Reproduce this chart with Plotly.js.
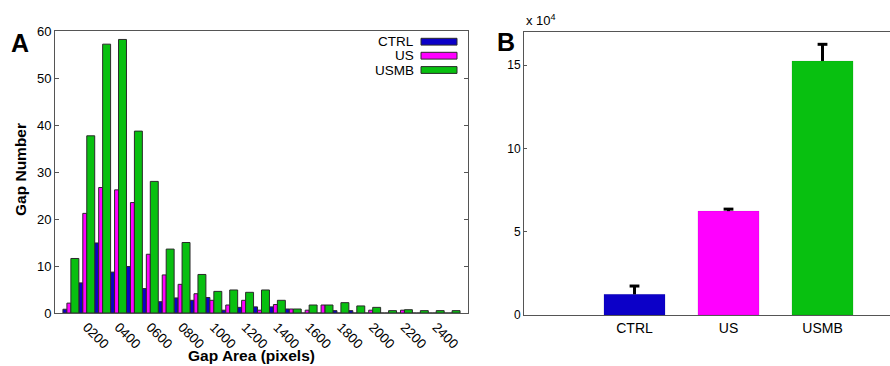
<!DOCTYPE html>
<html>
<head>
<meta charset="utf-8">
<script src="https://cdn.plot.ly/plotly-3.0.1.min.js"></script>
<style>html,body{margin:0;padding:0;background:#fff;}#chart{width:890px;height:366px;}</style>
</head>
<body>
<div id="chart"></div>
<script>
// Panel A: histogram of gap areas (bin centres, pixels)
const binCenters = [100,200,300,400,500,600,700,800,900,1000,1100,1200,1300,1400,1500,1600,1700,1800,1900,2000,2100,2200,2300,2400,2500];
const ctrlCounts = [0.8,6.4,14.9,8.7,9.9,5.2,2.4,3.2,2.7,3.3,0.6,1.2,1.3,1.3,0.85,0,0,0.5,0.5,0,0,0,0,0,0];
const usCounts   = [2.1,21.2,26.7,26.2,23.5,12.5,8.1,6.1,4.1,2.7,1.7,2.7,0.6,1.8,0.85,0.6,1.7,0,0,0.6,0,0.6,0,0,0];
const usmbCounts = [11.6,37.7,57.2,58.2,38.7,28,13.6,15,8.2,4.6,4.9,4.4,4.9,2.7,0.85,1.7,1.7,2.2,1.5,1.2,0.5,0.7,0.5,0.5,0.5];
const xTickVals  = [200,400,600,800,1000,1200,1400,1600,1800,2000,2200,2400];
const xTickText  = ['0200','0400','0600','0800','1000','1200','1400','1600','1800','2000','2200','2400'];
const yTicksA    = [0,10,20,30,40,50,60];

// Panel B: total gap area (x 10^4)
const groups     = ['CTRL','US','USMB'];
const totalArea  = [1.24,6.24,15.26];
const totalErr   = [0.5,0.12,1.0];
const yTicksB    = [0,5,10,15];

const colors = {CTRL:'#0c00c8', US:'#ff00ff', USMB:'#08c010'};
const FONT = 'Liberation Sans, Arial, Helvetica, sans-serif';
const edge = {color:'#2a2a2a', width:1};

const errTop = totalArea.map((v,i)=>v+totalErr[i]);

const traces = [
  {type:'bar', name:'CTRL', x:binCenters, y:ctrlCounts, offset:-50, width:25,
   marker:{color:colors.CTRL, line:edge}, xaxis:'x', yaxis:'y', showlegend:false},
  {type:'bar', name:'US', x:binCenters, y:usCounts, offset:-25, width:25,
   marker:{color:colors.US, line:edge}, xaxis:'x', yaxis:'y', showlegend:false},
  {type:'bar', name:'USMB', x:binCenters, y:usmbCounts, offset:0, width:50,
   marker:{color:colors.USMB, line:edge}, xaxis:'x', yaxis:'y', showlegend:false},
  {type:'bar', name:'Total', x:groups, y:totalArea, width:0.65,
   marker:{color:groups.map(g=>colors[g]), line:{color:'rgba(0,0,0,0.15)', width:0.5}},
   error_y:{type:'data', symmetric:false, array:totalErr, arrayminus:[0,0,0], color:'#000', thickness:3, width:0},
   xaxis:'x2', yaxis:'y2', showlegend:false},
  {type:'scatter', mode:'markers', name:'cap', x:groups, y:errTop,
   marker:{symbol:'line-ew', size:7, color:'#000', line:{color:'#000', width:3}},
   xaxis:'x2', yaxis:'y2', showlegend:false, cliponaxis:false}
];

const ax = {showline:true, linecolor:'#555', linewidth:1, showgrid:false, zeroline:false,
            tickfont:{family:FONT, size:13, color:'#000'}, tickcolor:'#555'};

function px(x){return x/890;}
function py(y){return (366-y)/366;}

const legendItems = [['CTRL',41.7],['US',55.7],['USMB',70]];
const annotations = [
  {text:'<b>A</b>', x:px(9), y:py(43.5), xref:'paper', yref:'paper', xanchor:'left', yanchor:'middle', showarrow:false, font:{family:FONT, size:25, color:'#000'}},
  {text:'<b>B</b>', x:px(495), y:py(42.5), xref:'paper', yref:'paper', xanchor:'left', yanchor:'middle', showarrow:false, font:{family:FONT, size:25, color:'#000'}},
  {text:'<b>Gap Number</b>', x:px(21), y:py(170), xref:'paper', yref:'paper', xanchor:'center', yanchor:'middle', textangle:-90, showarrow:false, font:{family:FONT, size:15.5, color:'#000'}},
  {text:'<b>Gap Area (pixels)</b>', x:px(251), y:py(355.5), xref:'paper', yref:'paper', xanchor:'center', yanchor:'middle', showarrow:false, font:{family:FONT, size:15.5, color:'#000'}},
  {text:'x 10<sup>4</sup>', x:px(524), y:py(20), xref:'paper', yref:'paper', xanchor:'left', yanchor:'middle', showarrow:false, font:{family:FONT, size:13, color:'#000'}}
];
const shapes = [];
legendItems.forEach(([name, yc])=>{
  annotations.push({text:name, x:px(416), y:py(yc), xref:'paper', yref:'paper', xanchor:'right', yanchor:'middle', showarrow:false, font:{family:FONT, size:13.5, color:'#000'}});
  shapes.push({type:'rect', xref:'paper', yref:'paper', x0:px(421), x1:px(457), y0:py(yc+3.4), y1:py(yc-3.4), fillcolor:colors[name], line:{color:'#2a2a2a', width:1}});
});

const layout = {
  width:890, height:366,
  margin:{l:0, r:0, t:0, b:0},
  paper_bgcolor:'#fff', plot_bgcolor:'#fff',
  barmode:'overlay', bargap:0,
  font:{family:FONT, color:'#000'},
  xaxis:Object.assign({}, ax, {domain:[px(55), px(468)], range:[0,2600], tickvals:xTickVals, ticktext:xTickText,
        tickangle:45, ticks:'', mirror:true, anchor:'y', tickfont:{family:FONT, size:13.5, color:'#000'}}),
  yaxis:Object.assign({}, ax, {domain:[py(313), py(31)], range:[0,60], tickvals:yTicksA, ticks:'inside', ticklen:4,
        mirror:'ticks', anchor:'x'}),
  xaxis2:Object.assign({}, ax, {domain:[px(524), 1], type:'category', range:[-1.1755, 2.718], ticks:'', mirror:true,
        anchor:'y2', tickfont:{family:FONT, size:14, color:'#000'}}),
  yaxis2:Object.assign({}, ax, {domain:[py(315), py(32)], range:[0,17], tickvals:yTicksB, ticks:'inside', ticklen:3,
        mirror:false, anchor:'x2', tickfont:{family:FONT, size:12, color:'#000'}}),
  annotations:annotations,
  shapes:shapes
};

Plotly.newPlot('chart', traces, layout, {displayModeBar:false, staticPlot:true});
</script>
</body>
</html>
